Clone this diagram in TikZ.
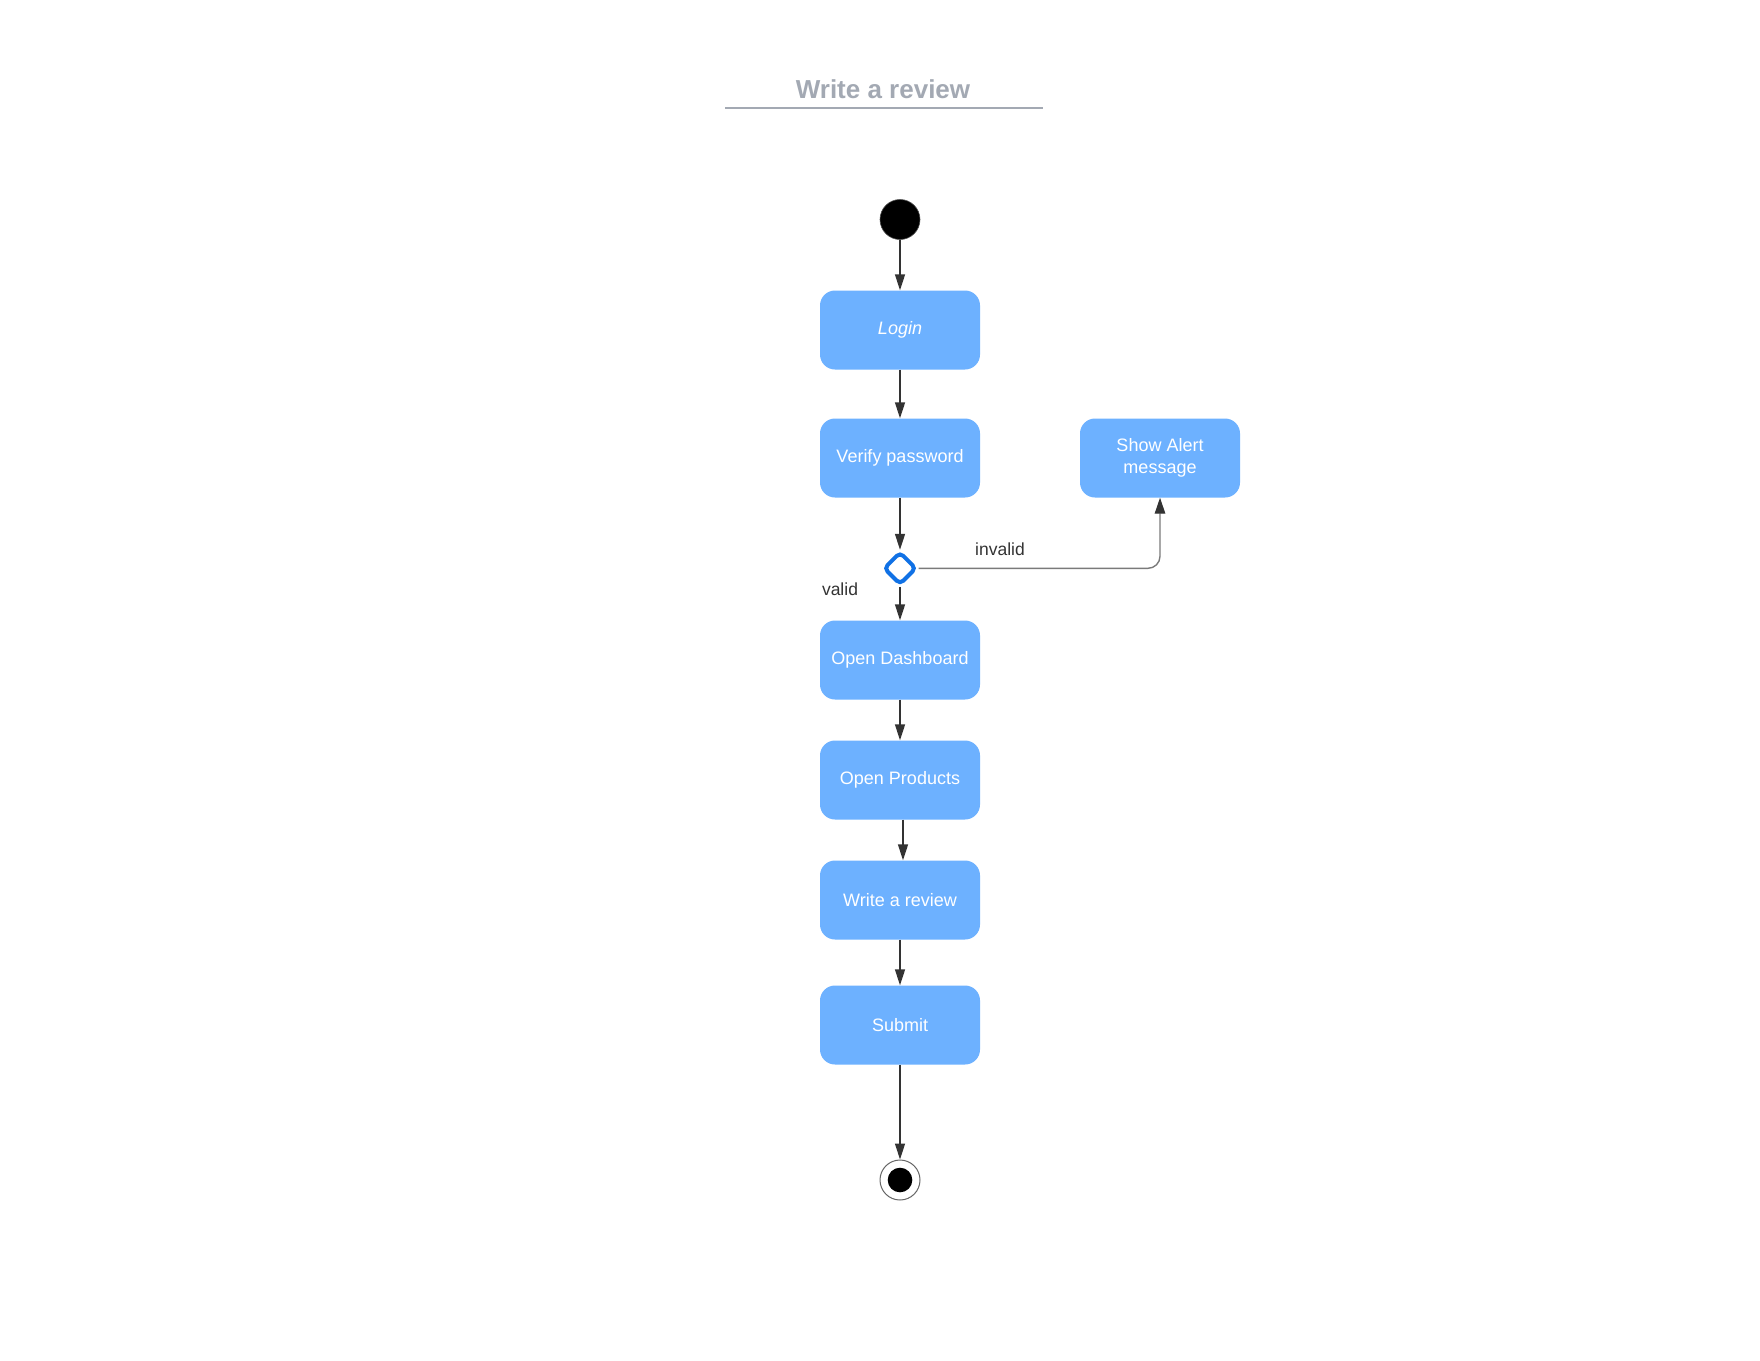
\documentclass[tikz,border=0pt]{standalone}
\usepackage{fontspec}
\setmainfont{Liberation Sans}
\usetikzlibrary{shapes.geometric,arrows.meta,calc}
\definecolor{boxblue}{HTML}{6DB1FF}
\definecolor{diablue}{HTML}{1071E5}
\definecolor{linegray}{HTML}{333333}
\definecolor{invgray}{HTML}{7A7A7A}
\definecolor{titlegray}{HTML}{A3A9B3}
\tikzset{
  actbox/.style={rectangle, rounded corners=15pt, fill=boxblue, draw=none,
    minimum width=160pt, minimum height=79pt, inner sep=0pt, text=white,
    align=center, font=\fontsize{18}{21.5}\selectfont},
  flow/.style={draw=linegray, line width=1.4pt, -{Triangle[length=16pt,width=10pt]}},
  flowgray/.style={draw=invgray, line width=1.4pt, -{Triangle[length=16pt,width=10.5pt,color=linegray]}},
  lbl/.style={text=linegray, font=\fontsize{17.5}{20}\selectfont, inner sep=0pt},
}
\begin{document}
\begin{tikzpicture}[x=1pt,y=-1pt]
\useasboundingbox[fill=white] (0,0) rectangle (1760,1360);
% title
\node[text=titlegray, font=\bfseries\fontsize{26}{30}\selectfont, inner sep=0pt] (title) at (883,89) {Write a review};
\coordinate (ulL) at (725,107.7);
\coordinate (ulR) at (1043,107.7);
\draw[titlegray, line width=2pt] (ulL) -- (ulR);
% start and end
\node[circle, fill=black, draw=black!70, line width=0.6pt, minimum size=40pt, inner sep=0pt] (start) at (900,219.5) {};
\node[circle, draw=black!60, line width=1pt, fill=white, minimum size=40pt, inner sep=0pt] (end) at (900,1180) {};
\node[circle, fill=black, minimum size=24.6pt, inner sep=0pt] (endin) at (900,1180) {};
% activities
\node[actbox] (login) at (900,330) {\itshape Login};
\node[actbox] (verify) at (900,458) {Verify password};
\node[actbox] (alert) at (1160,458) {Show Alert\\message};
\node[actbox] (dash) at (900,660) {Open Dashboard};
\node[actbox] (prod) at (900,780) {Open Products};
\node[actbox] (write) at (900,900) {Write a review};
\node[actbox] (submit) at (900,1025) {Submit};
% decision
\node[diamond, draw=diablue, line width=4pt, rounded corners=4.5pt, minimum width=33pt, minimum height=33pt, inner sep=0pt, aspect=1] (dec) at (900,568.3) {};
% labels
\node[lbl] (linvalid) at (1000,549) {invalid};
\node[lbl] (lvalid) at (840,589) {valid};
% connectors
\draw[flow] (start.south) -- (login.north);
\draw[flow] (login.south) -- (verify.north);
\draw[flow] (verify.south) -- (dec.north);
\draw[flow] (dec.south) -- (dash.north);
\draw[flow] (dash.south) -- (prod.north);
\draw[flow] ([xshift=3pt]prod.south) -- ([xshift=3pt]write.north);
\draw[flow] (write.south) -- (submit.north);
\draw[flow] (submit.south) -- (end.north);
\coordinate (corner) at (alert.south |- dec.east);
\draw[flowgray] (dec.east) -- ($(corner)+(-12,0)$) .. controls ($(corner)+(-5.4,0)$) and ($(corner)+(0,-5.4)$) .. ($(corner)+(0,-12)$) -- (alert.south);
\end{tikzpicture}
\end{document}
